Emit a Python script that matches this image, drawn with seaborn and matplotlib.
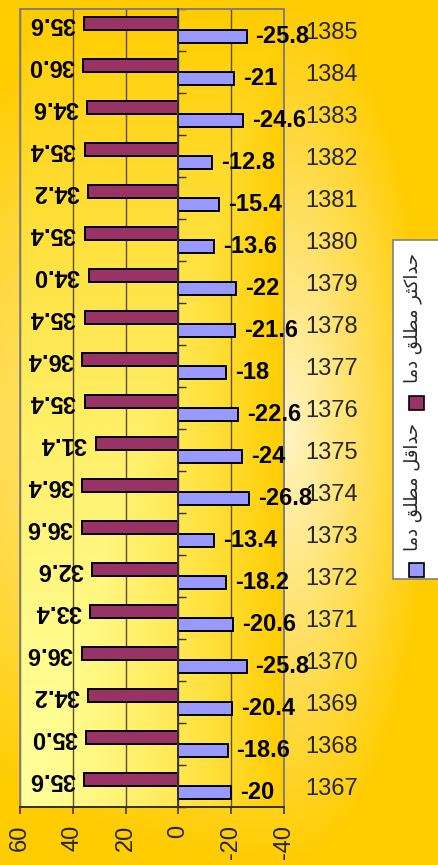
import numpy as np
import pandas as pd
import matplotlib
matplotlib.use("Agg")
import matplotlib.pyplot as plt
from matplotlib.patches import Rectangle
from matplotlib.ticker import FixedLocator
import seaborn as sns

# ---- data -------------------------------------------------------------
years = [1367, 1368, 1369, 1370, 1371, 1372, 1373, 1374, 1375, 1376,
         1377, 1378, 1379, 1380, 1381, 1382, 1383, 1384, 1385]
abs_max = [35.6, 35.0, 34.2, 36.6, 33.4, 32.6, 36.6, 36.4, 31.4, 35.4,
           36.4, 35.4, 34.0, 35.4, 34.2, 35.4, 34.6, 36.0, 35.6]
abs_min = [-20, -18.6, -20.4, -25.8, -20.6, -18.2, -13.4, -26.8, -24, -22.6,
           -18, -21.6, -22, -13.6, -15.4, -12.8, -24.6, -21, -25.8]
series_max = "حداکثر مطلق دما"
series_min = "حداقل مطلق دما"
value_ticks = [60, 40, 20, 0, -20, -40]

# ---- Persian shaping (matplotlib has no complex text layout) -----------
FORMS = {  # isolated, final, initial, medial
    'ا': ('\uFE8D', '\uFE8E', None, None),
    'د': ('\uFEA9', '\uFEAA', None, None),
    'ر': ('\uFEAD', '\uFEAE', None, None),
    'ح': ('\uFEA1', '\uFEA2', '\uFEA3', '\uFEA4'),
    'ک': ('\uFB8E', '\uFB8F', '\uFB90', '\uFB91'),
    'ث': ('\uFE99', '\uFE9A', '\uFE9B', '\uFE9C'),
    'م': ('\uFEE1', '\uFEE2', '\uFEE3', '\uFEE4'),
    'ط': ('\uFEC1', '\uFEC2', '\uFEC3', '\uFEC4'),
    'ل': ('\uFEDD', '\uFEDE', '\uFEDF', '\uFEE0'),
    'ق': ('\uFED5', '\uFED6', '\uFED7', '\uFED8'),
}


def shape_rtl(text):
    out = []
    for i, ch in enumerate(text):
        forms = FORMS.get(ch)
        if forms is None:
            out.append(ch)
            continue
        prev = text[i - 1] if i > 0 else None
        nxt = text[i + 1] if i + 1 < len(text) else None
        join_prev = prev in FORMS and FORMS[prev][2] is not None
        join_next = forms[2] is not None and nxt in FORMS
        if join_prev and join_next:
            out.append(forms[3])
        elif join_prev:
            out.append(forms[1])
        elif join_next:
            out.append(forms[2])
        else:
            out.append(forms[0])
    return ''.join(reversed(out))


# ---- long-format table ------------------------------------------------
df = pd.DataFrame({
    "year": [str(y) for y in years] * 2,
    "value": abs_max + abs_min,
    "series": [series_max] * len(years) + [series_min] * len(years),
})
order = [str(y) for y in reversed(years)]

sns.set_theme(style="white")
plt.rcParams['font.family'] = ['Liberation Sans', 'DejaVu Sans']

W, H = 439, 865
fig = plt.figure(figsize=(W / 100, H / 100), dpi=100)

# ---- figure background gradient --------------------------------------
light = np.array([1.0, 0.955, 0.76])
gold = np.array([1.0, 0.80, 0.0])
yy, xx = np.mgrid[0:H, 0:W].astype(float)
cx = 290.0
dxn = np.where(xx < cx, (xx - cx) / 500.0, (xx - cx) / 140.0)
dyn = (yy - H * 0.5) / (H * 0.5)
t = np.clip(np.sqrt(dxn ** 2 + dyn ** 2), 0, 1)
bg = light[None, None, :] * (1 - t[..., None]) + gold[None, None, :] * t[..., None]
bg_ax = fig.add_axes([0, 0, 1, 1])
bg_ax.imshow(bg, aspect='auto', extent=(0, 1, 0, 1), origin='upper')
bg_ax.axis('off')

# ---- main axes --------------------------------------------------------
left_px, right_px, top_px, bottom_px = 20, 284, 9, 807
ax = fig.add_axes([left_px / W, (H - bottom_px) / H,
                   (right_px - left_px) / W, (bottom_px - top_px) / H])
ax.patch.set_alpha(0)

sns.barplot(data=df, y="year", x="value", hue="series", order=order,
            hue_order=[series_max, series_min],
            palette=["#993366", "#9999FF"], orient="h", width=0.6,
            edgecolor="black", linewidth=1.4, saturation=1, legend=False,
            ax=ax, zorder=3)

n = len(years)

# plot-area gradient (row 0 = top of the panel): pale at the lower left,
# gold toward the top edge and the right edge
gh, gw = 400, 200
rows, cols = np.mgrid[0:gh, 0:gw].astype(float)
u = cols / (gw - 1)              # 0 at left, 1 at right
v = 1 - rows / (gh - 1)          # 1 at top, 0 at bottom
tp = np.clip(np.maximum(u, v), 0, 1) ** 1.5
pale = np.array([1.0, 1.0, 0.60])
pa = pale[None, None, :] * (1 - tp[..., None]) + gold[None, None, :] * tp[..., None]
ax.imshow(pa, aspect='auto', extent=(0, 1, 0, 1), origin='upper',
          transform=ax.transAxes, zorder=-1)
ax.set_xlim(60, -40)
ax.set_ylim(n - 0.5, -0.5)

# grid and axes
ax.set_xticks(value_ticks)
ax.set_xticklabels([f"{v:g}" for v in value_ticks], rotation=90)
ax.grid(axis='x', color='#5c4d1f', linewidth=1.0, zorder=0.5)
ax.grid(axis='y', visible=False)
ax.set_axisbelow(True)

for side in ['top', 'right']:
    ax.spines[side].set_color('#808080')
    ax.spines[side].set_linewidth(1.3)
ax.spines['bottom'].set_color('#2f2a1a')
ax.spines['bottom'].set_linewidth(1.3)
ax.spines['left'].set_position(('data', 0))
ax.spines['left'].set_color('#333333')
ax.spines['left'].set_linewidth(1.3)
ax.spines['left'].set_zorder(4)
ax.add_patch(Rectangle((0, 0), 1, 1, transform=ax.transAxes, fill=False,
                       edgecolor='#808080', linewidth=1.3, zorder=2.5,
                       clip_on=False))

ax.tick_params(axis='x', direction='out', length=5, width=1.1,
               color='#2f2a1a', pad=8, labelsize=17, bottom=True)
ax.tick_params(axis='y', which='major', left=False, right=False,
               labelleft=False, labelright=True, pad=9, labelsize=17)
ax.yaxis.set_minor_locator(FixedLocator(np.arange(-0.5, n, 1.0)))
ax.tick_params(axis='y', which='minor', left=True, direction='in',
               length=6, width=1.0, color='#333333')
ax.set_xlabel("")
ax.set_ylabel("")

# value labels
c_max, c_min = ax.containers[0], ax.containers[1]
ax.bar_label(c_max, fmt="{:.1f}", padding=6.5, rotation=180,
             fontsize=17, fontweight='bold', color='black')
ax.bar_label(c_min, fmt="{:g}", padding=6.5,
             fontsize=17, fontweight='bold', color='black')

# ---- legend (vertical, drawn in figure pixels) ------------------------
def fx(px):
    return px / W


def fy(py):
    return 1 - py / H


fig.add_artist(Rectangle((fx(393), fy(579)), fx(460) - fx(393),
                         fy(240) - fy(579), transform=fig.transFigure,
                         facecolor='white', edgecolor='#808080',
                         linewidth=1.2, zorder=5))
legend_items = [(series_max, "#993366", 318, 403),
                (series_min, "#9999FF", 487, 570)]
for label, color, text_y, box_y in legend_items:
    fig.add_artist(Rectangle((fx(409), fy(box_y + 7)), fx(424) - fx(409),
                             fy(box_y - 7) - fy(box_y + 7),
                             transform=fig.transFigure, facecolor=color,
                             edgecolor='black', linewidth=1.2, zorder=6))
    fig.text(fx(413), fy(text_y), shape_rtl(label), rotation=90,
             ha='center', va='center', fontsize=13,
             family=['DejaVu Sans'], zorder=6)

fig.savefig("out.png", dpi=100)
